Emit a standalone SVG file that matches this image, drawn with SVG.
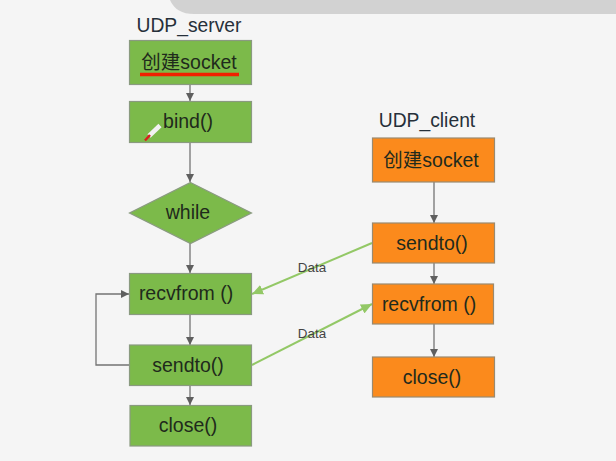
<svg xmlns="http://www.w3.org/2000/svg" width="616" height="461" viewBox="0 0 616 461">
<style>
.t{font-family:"Liberation Sans","Noto Sans CJK SC",sans-serif;font-size:19.5px;fill:#1f2a1c;text-anchor:middle}
.h{font-family:"Liberation Sans",sans-serif;font-size:19.3px;fill:#26303a;text-anchor:middle}
.d{font-family:"Liberation Sans",sans-serif;font-size:13.4px;fill:#444;text-anchor:middle}
.g{fill:#7cba4a;stroke:#8a9a80;stroke-width:1.2}
.o{fill:#fb8a1c;stroke:#9a8a70;stroke-width:1.2}
.c{fill:none;stroke:#737373;stroke-width:1.3}
.a{fill:none;stroke:#93c866;stroke-width:2}
</style>
<defs>
<marker id="m" markerUnits="userSpaceOnUse" markerWidth="9" markerHeight="8" refX="8" refY="4" orient="auto"><path d="M0 0L8 4L0 8Z" fill="#5f5f5f"/></marker>
<marker id="n" markerUnits="userSpaceOnUse" markerWidth="12" markerHeight="10" refX="11" refY="5" orient="auto"><path d="M0 0L11 5L0 10Z" fill="#93c866"/></marker>
</defs>
<rect width="616" height="461" fill="#f5f5f5"/>
<path d="M170 0H616V14H194Q176 14 170 0Z" fill="#d2d2d2"/>
<g id="connectors">
<path class="c" marker-end="url(#m)" d="M190 85V101"/>
<path class="c" marker-end="url(#m)" d="M190 142V182"/>
<path class="c" marker-end="url(#m)" d="M190 243V273"/>
<path class="c" marker-end="url(#m)" d="M190 314V345"/>
<path class="c" marker-end="url(#m)" d="M190 385V405"/>
<path class="c" marker-end="url(#m)" d="M129 365H96V294H129"/>
<path class="c" marker-end="url(#m)" d="M434 182V223"/>
<path class="c" marker-end="url(#m)" d="M434 263V284"/>
<path class="c" marker-end="url(#m)" d="M434 324V357"/>
<path class="a" marker-end="url(#n)" d="M372 243L252 294"/>
<path class="a" marker-end="url(#n)" d="M252 365L372 304"/>
<text class="d" x="312" y="272">Data</text>
<text class="d" x="312" y="338">Data</text>
</g>
<text class="h" x="189" y="32">UDP_server</text>
<text class="h" x="427" y="127">UDP_client</text>
<g id="server-socket"><rect class="g" x="129.500" y="40.500" width="122" height="44"/><text class="t" x="189" y="69">创建socket</text><path d="M140 74.500H239" stroke="#f02000" stroke-width="3.500"/></g>
<g id="server-bind"><rect class="g" x="129.500" y="101.500" width="122" height="41"/><text class="t" x="188" y="128">bind()</text><path d="M149 136L160 125.500" stroke="#f2f2f2" stroke-width="4.500"/><path d="M145 140.500L150 135" stroke="#d81e1e" stroke-width="2.500"/></g>
<g id="server-while"><path class="g" d="M190.500 182.500L251.500 213L190.500 243.500L129.500 213Z"/><text class="t" x="188" y="219">while</text></g>
<g id="server-recvfrom"><rect class="g" x="129.500" y="273.500" width="122" height="41"/><text class="t" x="186" y="300">recvfrom ()</text></g>
<g id="server-sendto"><rect class="g" x="129.500" y="345" width="122" height="40.500"/><text class="t" x="188" y="372">sendto()</text></g>
<g id="server-close"><rect class="g" x="130" y="405.500" width="121.500" height="40.500"/><text class="t" x="188" y="432">close()</text></g>
<g id="client-socket"><rect class="o" x="372.500" y="138" width="122" height="44"/><text class="t" x="431" y="167">创建socket</text></g>
<g id="client-sendto"><rect class="o" x="372.500" y="223" width="122" height="40"/><text class="t" x="432" y="250">sendto()</text></g>
<g id="client-recvfrom"><rect class="o" x="372.500" y="284" width="121" height="40"/><text class="t" x="429" y="311">recvfrom ()</text></g>
<g id="client-close"><rect class="o" x="372.500" y="357" width="122" height="40"/><text class="t" x="432" y="384">close()</text></g>
</svg>
